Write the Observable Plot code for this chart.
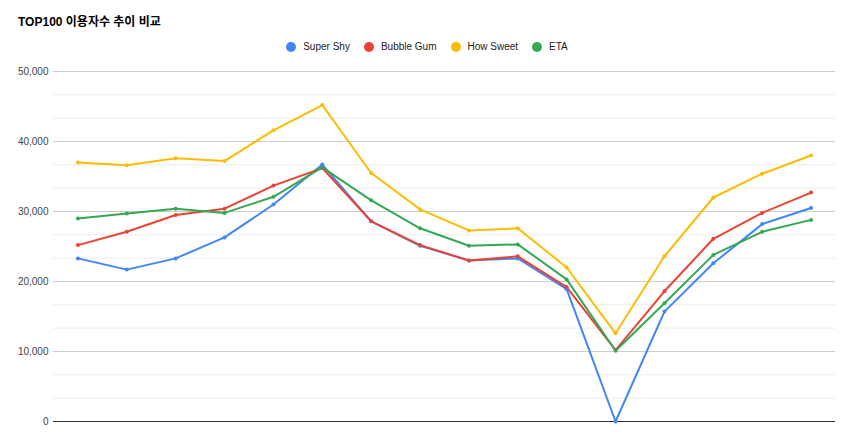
<!DOCTYPE html>
<html>
<head>
<meta charset="utf-8">
<script src="https://cdn.jsdelivr.net/npm/d3@7"></script>
<script src="https://cdn.jsdelivr.net/npm/@observablehq/plot@0.6"></script>
<style>
  html, body { margin: 0; padding: 0; background: #fff; }
  #wrap { position: relative; width: 850px; height: 439px; font-family: Arial, "Liberation Sans", sans-serif; }
  #title { position: absolute; left: 18px; top: 12px; font-size: 12px; font-weight: bold; color: #000; font-family: Arial, "Liberation Sans", "Noto Sans CJK KR", sans-serif; white-space: nowrap; }
  #legend { position: absolute; left: 2px; top: 41px; width: 850px; display: flex; justify-content: center; font-size: 10px; color: #222; }
  .item { display: flex; align-items: center; margin: 0 7px; }
  .sw { width: 10px; height: 10px; border-radius: 50%; margin-right: 7px; }
  #chart { position: absolute; left: 0; top: 60px; }
</style>
</head>
<body>
<div id="wrap">
  <div id="title">TOP100 이용자수 추이 비교</div>
  <div id="legend"></div>
  <div id="chart"></div>
</div>
<script>
const points = [1, 2, 3, 4, 5, 6, 7, 8, 9, 10, 11, 12, 13, 14, 15, 16];
const seriesNames = ["Super Shy", "Bubble Gum", "How Sweet", "ETA"];
const seriesColors = ["#4285F4", "#EA4335", "#FBBC04", "#34A853"];
const superShy  = [23300, 21700, 23300, 26300, 31000, 36700, 28600, 25100, 23000, 23300, 18900, 0, 15700, 22600, 28200, 30500];
const bubbleGum = [25200, 27100, 29500, 30400, 33700, 36200, 28600, 25200, 23000, 23600, 19200, 10200, 18600, 26100, 29800, 32700];
const howSweet  = [37000, 36600, 37600, 37200, 41600, 45200, 35500, 30300, 27300, 27600, 22000, 12600, 23600, 32000, 35400, 38000];
const eta       = [29000, 29700, 30400, 29800, 32100, 36300, 31600, 27600, 25100, 25300, 20300, 10100, 16900, 23800, 27100, 28800];
const majorTicks = [0, 10000, 20000, 30000, 40000, 50000];
const tickLabels = ["0", "10,000", "20,000", "30,000", "40,000", "50,000"];
const minorTicks = [3333, 6667, 13333, 16667, 23333, 26667, 33333, 36667, 43333, 46667];

const allSeries = [superShy, bubbleGum, howSweet, eta];
const data = [];
allSeries.forEach((vals, s) => {
  vals.forEach((v, i) => data.push({ series: seriesNames[s], x: points[i], y: v }));
});

const legend = document.getElementById("legend");
seriesNames.forEach((n, i) => {
  const it = document.createElement("div");
  it.className = "item";
  it.innerHTML = `<span class="sw" style="background:${seriesColors[i]}"></span><span>${n}</span>`;
  legend.appendChild(it);
});

const chart = Plot.plot({
  width: 850,
  height: 379,
  marginLeft: 53,
  marginRight: 15,
  marginTop: 11,
  marginBottom: 18,
  style: { fontFamily: "Arial, 'Liberation Sans', sans-serif", fontSize: "10px", background: "#fff" },
  x: { type: "linear", domain: [points[0] - 0.5, points[points.length - 1] + 0.5], axis: null },
  y: { domain: [0, 50000], axis: null },
  color: { domain: seriesNames, range: seriesColors },
  marks: [
    Plot.ruleY(minorTicks, { stroke: "#ebebeb", strokeWidth: 1 }),
    Plot.ruleY(majorTicks.slice(1), { stroke: "#cccccc", strokeWidth: 1 }),
    Plot.ruleY([0], { stroke: "#333333", strokeWidth: 1 }),
    Plot.axisY(majorTicks, { tickSize: 0, tickPadding: 5, label: null, tickFormat: (d, i) => tickLabels[i], fill: "#444", fontSize: 10 }),
    Plot.line(data, { x: "x", y: "y", z: "series", stroke: "series", strokeWidth: 2, curve: "linear" }),
    Plot.dot(data, { x: "x", y: "y", fill: "series", r: 2, stroke: null })
  ]
});
document.getElementById("chart").appendChild(chart);
</script>
</body>
</html>
